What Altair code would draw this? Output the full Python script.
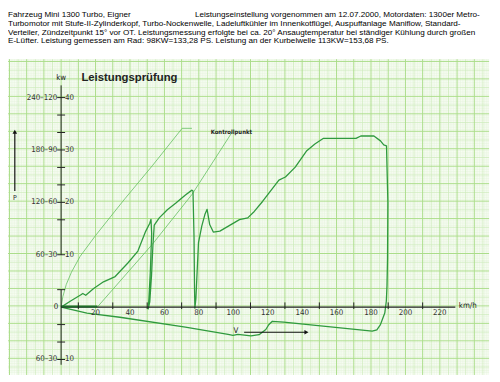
import altair as alt
import pandas as pd

# ---------------- data (km/h, kW) ----------------
# thin guide line 1 (rises from origin, flat top)
g1_v = [0, 1, 3, 6, 11, 20, 31.3, 37, 53, 70.3, 76]
g1_p = [0, 6, 13, 20, 29, 41, 55, 62, 81, 102.4, 102.4]
# thin guide line 2 (starts at ~21 km/h)
g2_v = [21, 53, 76, 99.4]
g2_p = [0, 36, 64.5, 100.3]
# measured power curve (run-up, then coast-down back to origin)
m_v = [0, 5.5, 11.3, 12.6, 14.3, 18.9, 24.6, 31.4, 38.9, 44.6, 49.1, 51.5, 52.2,
       52.6, 51.8, 51.0, 50.6, 51.5, 52.5, 53.3, 54.1, 57, 61.7, 66.5, 72.2, 76,
       76.6, 77.2, 77.5, 77.7, 78.3, 78.9, 79.8, 81.7, 83.5, 84.8, 86.3, 88.4, 92.2,
       97.9, 103.6, 108.4, 112.2, 117, 126.5, 130.3, 136, 142.7, 147.4, 152.2, 157,
       164.6, 171.3, 174.1, 181.7, 185.5, 187.4, 189, 189.8, 189.6, 189.3, 188.9,
       188, 185.5, 183.4, 180.7, 157.9, 129.3, 122.7, 120.6, 118.9, 115, 110.3,
       102.7, 99.8, 97, 72.2, 34.1, 15, 0]
m_p = [0, 3.5, 6.9, 7.8, 6.8, 10.7, 14.5, 17.5, 25.4, 32.1, 43.4, 48, 50.3,
       42, 20, 5, -1, 3, 18, 35, 47, 51.1, 55.8, 59.5, 64.2, 67,
       66.5, 40, 10, -0.6, 5, 18.2, 37, 46.4, 53, 56, 47.3, 43, 43.5,
       46.8, 50.1, 51.1, 54.8, 60.5, 72.7, 74.5, 80.2, 89.6, 93.4, 96.6, 96.6,
       96.7, 96.6, 98, 98, 95.2, 92.9, 92.4, 60, 27.6, 12.4, 3.4,
       -3.4, -10, -13, -13.7, -11.4, -8.6, -8.1, -10.1, -12.8, -15.8, -16.5,
       -15.6, -16.2, -15.6, -11.4, -5.8, -3.4, 0]

x_tick_vals = [10, 30, 50, 70, 90, 110, 130, 150, 170, 190, 210]
x_label_vals = [20, 40, 60, 80, 100, 120, 140, 160, 180, 200, 220]
y_tick_vals = [110, 100, 80, 70, 50, 10, -10, -20]
y_label_vals = [120, 90, 60, 30, -30]
y_label_left = ["240–120", "180–90", "120–60", "60–30", "60–30"]
y_label_right = ["40", "30", "20", "10", "10"]

header = [
    "Fahrzeug Mini 1300 Turbo, Eigner",
    "Turbomotor mit Stufe-II-Zylinderkopf, Turbo-Nockenwelle, Ladeluftkühler im Innenkotflügel, Auspuffanlage Maniflow, Standard-",
    "Verteiler, Zündzeitpunkt 15° vor OT. Leistungsmessung erfolgte bei ca. 20° Ansaugtemperatur bei ständiger Kühlung durch großen",
    "E-Lüfter. Leistung gemessen am Rad: 98KW=133,28 PS. Leistung an der Kurbelwelle 113KW=153,68 PS.",
]
header_1b = "Leistungseinstellung vorgenommen am 12.07.2000, Motordaten: 1300er Metro-"

# ---------------- scales ----------------
X_DOMAIN = [-30.857, 250.286]
Y_DOMAIN = [-38.87, 169.58]
W, H = 492, 370
PAPER = dict(x=-30.857, x2=248.6, y=-38.87, y2=142.0)
GRID_SHIFT = 0.7  # paper grid is printed slightly offset from the axis

xs = alt.Scale(domain=X_DOMAIN, nice=False, zero=False)
ys = alt.Scale(domain=Y_DOMAIN, nice=False, zero=False)


def X(f):
    return alt.X(f, type="quantitative", scale=xs, axis=None)


def Y(f):
    return alt.Y(f, type="quantitative", scale=ys, axis=None)


layers = []

# paper
layers.append(
    alt.Chart(pd.DataFrame([PAPER])).mark_rect(color="#fdfffb").encode(
        x=X("x"), x2="x2", y=Y("y"), y2="y2")
)


def vlines(vals, color, w, op=1.0):
    df = pd.DataFrame({"x": vals, "y": PAPER["y"], "y2": PAPER["y2"]})
    return alt.Chart(df).mark_rule(color=color, strokeWidth=w, opacity=op).encode(
        x=X("x"), y=Y("y"), y2="y2")


def hlines(vals, color, w, op=1.0):
    df = pd.DataFrame({"y": vals, "x": PAPER["x"], "x2": PAPER["x2"]})
    return alt.Chart(df).mark_rule(color=color, strokeWidth=w, opacity=op).encode(
        y=Y("y"), x=X("x"), x2="x2")


vx = list(range(-30, 249))
hy = list(range(-38, 142))
layers.append(vlines([v for v in vx if v % 5], "#e2f3d8", 0.5))
layers.append(hlines([p + GRID_SHIFT for p in hy if p % 5], "#e2f3d8", 0.5))
layers.append(vlines([v for v in vx if v % 5 == 0 and v % 10], "#cdebbb", 0.8))
layers.append(hlines([p + GRID_SHIFT for p in hy if p % 5 == 0 and p % 10], "#cdebbb", 0.8))
layers.append(vlines([v for v in vx if v % 10 == 0], "#a9dc88", 1.0))
layers.append(hlines([p + GRID_SHIFT for p in hy if p % 10 == 0], "#a9dc88", 1.0))

# curves
def curve(vs, ps, color, w):
    df = pd.DataFrame({"v": vs, "p": ps, "i": range(len(vs))})
    return alt.Chart(df).mark_line(color=color, strokeWidth=w, strokeJoin="round").encode(
        x=X("v"), y=Y("p"), order="i:Q")


layers.append(curve(g1_v, g1_p, "#62bf5e", 0.8))
layers.append(curve(g2_v, g2_p, "#62bf5e", 0.8))
layers.append(curve(m_v, m_p, "#2f9a3e", 1.3))

# axes
axis_col = "#222222"
layers.append(alt.Chart(pd.DataFrame({"x": [0], "x2": [229], "y": [0]})).mark_rule(
    color=axis_col, strokeWidth=1.2).encode(x=X("x"), x2="x2", y=Y("y")))
layers.append(alt.Chart(pd.DataFrame({"x": [0], "x2": [21], "y": [0.3]})).mark_rule(
    color="#1d6b2a", strokeWidth=2).encode(x=X("x"), x2="x2", y=Y("y")))
layers.append(alt.Chart(pd.DataFrame({"x": [0, 0], "y": [127, 10], "y2": [30, -33]})).mark_rule(
    color=axis_col, strokeWidth=1).encode(x=X("x"), y=Y("y"), y2="y2"))
layers.append(alt.Chart(pd.DataFrame({"x": x_tick_vals, "y": -1.1, "y2": 2.7})).mark_rule(
    color=axis_col, strokeWidth=1).encode(x=X("x"), y=Y("y"), y2="y2"))
layers.append(alt.Chart(pd.DataFrame({"y": y_tick_vals + y_label_vals, "x": -2.3, "x2": 2.3})).mark_rule(
    color=axis_col, strokeWidth=1).encode(y=Y("y"), x=X("x"), x2="x2"))

num_font = "DejaVu Sans Condensed"
layers.append(alt.Chart(pd.DataFrame({"x": x_label_vals, "y": -3.2, "t": [str(v) for v in x_label_vals]})).mark_text(
    fontSize=8, font=num_font, color="#333", align="center", baseline="middle").encode(
    x=X("x"), y=Y("y"), text="t:N"))
layers.append(alt.Chart(pd.DataFrame({"x": -2.3, "y": y_label_vals, "t": y_label_left})).mark_text(
    fontSize=8, font=num_font, color="#333", align="right", baseline="middle").encode(
    x=X("x"), y=Y("y"), text="t:N"))
layers.append(alt.Chart(pd.DataFrame({"x": 2.3, "y": y_label_vals, "t": y_label_right})).mark_text(
    fontSize=8, font=num_font, color="#333", align="left", baseline="middle").encode(
    x=X("x"), y=Y("y"), text="t:N"))


def label(x, y, t, size=8, align="center", weight="normal", font=num_font):
    return alt.Chart(pd.DataFrame({"x": [x], "y": [y], "t": [t]})).mark_text(
        fontSize=size, font=font, color="#222", align=align, baseline="middle",
        fontWeight=weight).encode(x=X("x"), y=Y("y"), text="t:N")


layers.append(label(-1.7, 0, "0", align="right"))
layers.append(label(0, 131, "kw"))
layers.append(label(231, 0.8, "km/h", align="left"))
layers.append(label(86.9, 100, "Kontrollpunkt", size=6, align="left", weight="bold"))
layers.append(label(-26.9, 62.5, "P", size=7))
layers.append(label(101.5, -13.6, "V", size=8))

# title
layers.append(label(11.8, 131, "Leistungsprüfung", size=11.5, align="left", weight="bold",
                    font="Liberation Sans"))

# P arrow and V arrow
layers.append(alt.Chart(pd.DataFrame({"x": [-26.9], "y": [66.5], "y2": [100.5]})).mark_rule(
    color="#111", strokeWidth=1.2).encode(x=X("x"), y=Y("y"), y2="y2"))
layers.append(alt.Chart(pd.DataFrame({"x": [-26.9], "y": [100.5]})).mark_point(
    shape="triangle-up", filled=True, color="#111", size=22, opacity=1).encode(x=X("x"), y=Y("y")))
layers.append(alt.Chart(pd.DataFrame({"x": [106.3], "x2": [142], "y": [-14.4]})).mark_rule(
    color="#111", strokeWidth=1.1).encode(x=X("x"), x2="x2", y=Y("y")))
layers.append(alt.Chart(pd.DataFrame({"x": [142.5], "y": [-14.4]})).mark_point(
    shape="triangle-right", filled=True, color="#111", size=22, opacity=1).encode(x=X("x"), y=Y("y")))

# header text
hdr_y = [167.0, 162.0, 157.1, 152.1]
hdr = pd.DataFrame({"x": -30.857, "y": hdr_y, "t": header})
layers.append(alt.Chart(hdr).mark_text(
    fontSize=8.25, font="Liberation Sans", color="#000", align="left", baseline="middle").encode(
    x=X("x"), y=Y("y"), text="t:N"))
layers.append(alt.Chart(pd.DataFrame({"x": [77.7], "y": [hdr_y[0]], "t": [header_1b]})).mark_text(
    fontSize=8.25, font="Liberation Sans", color="#000", align="left", baseline="middle").encode(
    x=X("x"), y=Y("y"), text="t:N"))

chart = alt.layer(*layers).properties(
    width=W, height=H, padding=0, autosize=alt.AutoSizeParams(type="none")
).configure_view(stroke=None)

chart.save("out.html", embed_options={"renderer": "svg", "actions": False})
